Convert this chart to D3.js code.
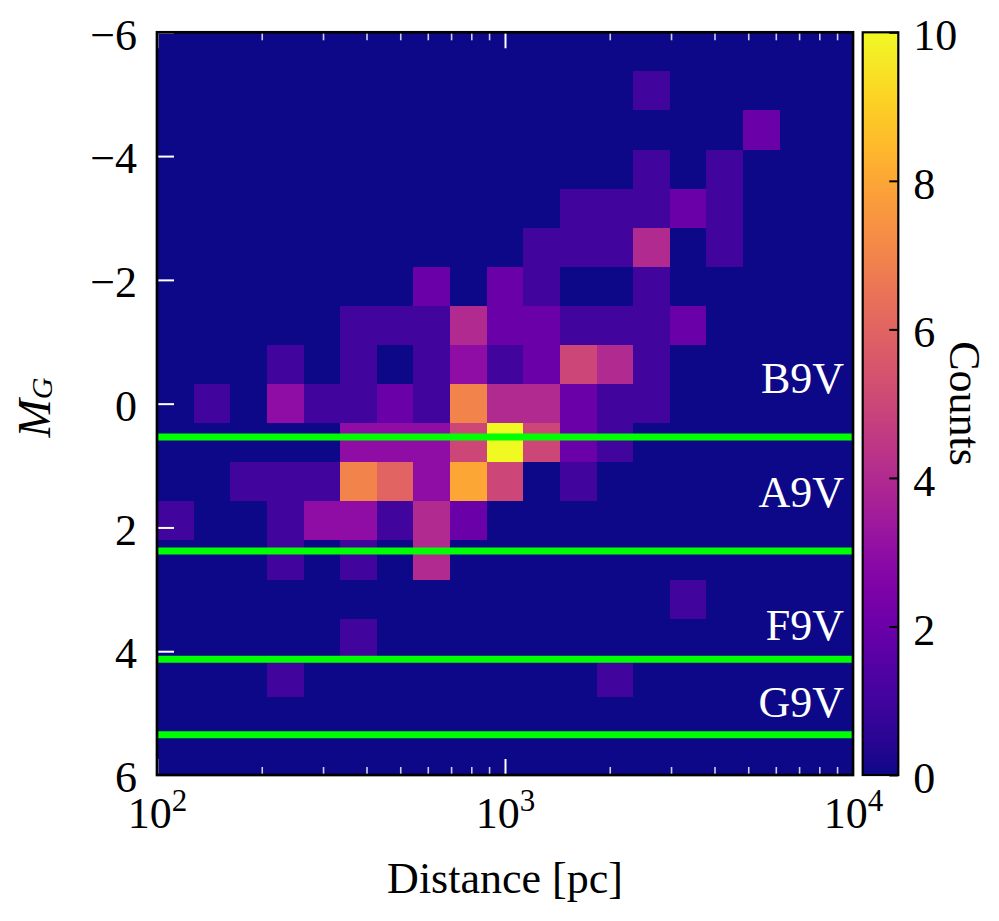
<!DOCTYPE html>
<html>
<head>
<meta charset="utf-8">
<script src="https://cdn.jsdelivr.net/npm/d3@7"></script>
<style>
  body { margin: 0; background: #fff; }
  text { font-family: "Liberation Serif", "DejaVu Serif", serif; }
</style>
</head>
<body>
<div id="chart"></div>
<script>
// Bin edges (19 log bins in distance, 19 linear bins in M_G)
const distEdges = [100, 127.43, 162.38, 206.91, 263.67, 335.98, 428.13, 545.56, 695.19, 885.87,
  1128.84, 1438.45, 1832.98, 2335.72, 2976.35, 3792.69, 4832.93, 6158.48, 7847.60, 10000];
const magEdges = [-6, -5.3684, -4.7368, -4.1053, -3.4737, -2.8421, -2.2105, -1.5789, -0.9474, -0.3158,
  0.3158, 0.9474, 1.5789, 2.2105, 2.8421, 3.4737, 4.1053, 4.7368, 5.3684, 6];

// Counts, one row per M_G bin (bright to faint), one column per distance bin
const counts = [
  [0,0,0,0,0,0,0,0,0,0,0,0,0,0,0,0,0,0,0],
  [0,0,0,0,0,0,0,0,0,0,0,0,0,1,0,0,0,0,0],
  [0,0,0,0,0,0,0,0,0,0,0,0,0,0,0,0,2,0,0],
  [0,0,0,0,0,0,0,0,0,0,0,0,0,1,0,1,0,0,0],
  [0,0,0,0,0,0,0,0,0,0,0,1,1,1,2,1,0,0,0],
  [0,0,0,0,0,0,0,0,0,0,1,1,1,4,0,1,0,0,0],
  [0,0,0,0,0,0,0,2,0,2,1,0,0,1,0,0,0,0,0],
  [0,0,0,0,0,1,1,1,4,2,2,1,1,1,2,0,0,0,0],
  [0,0,0,1,0,1,0,1,3,1,2,5,4,1,0,0,0,0,0],
  [0,1,0,3,1,1,2,1,7,4,4,2,1,1,0,0,0,0,0],
  [0,0,0,0,0,3,3,3,5,10,5,2,1,0,0,0,0,0,0],
  [0,0,1,1,1,7,6,3,8,5,0,1,0,0,0,0,0,0,0],
  [1,0,0,1,3,3,1,4,2,0,0,0,0,0,0,0,0,0,0],
  [0,0,0,1,0,1,0,4,0,0,0,0,0,0,0,0,0,0,0],
  [0,0,0,0,0,0,0,0,0,0,0,0,0,0,1,0,0,0,0],
  [0,0,0,0,0,1,0,0,0,0,0,0,0,0,0,0,0,0,0],
  [0,0,0,1,0,0,0,0,0,0,0,0,1,0,0,0,0,0,0],
  [0,0,0,0,0,0,0,0,0,0,0,0,0,0,0,0,0,0,0],
  [0,0,0,0,0,0,0,0,0,0,0,0,0,0,0,0,0,0,0]
];

// Spectral type reference lines
const typeNames = ["B9V", "A9V", "F9V", "G9V"];
const typeMag = [0.54, 2.38, 4.13, 5.35];
const typeLabelMag = [-0.17, 1.67, 3.82, 5.06];

// Ticks
const xMajorTicks = [100, 1000, 10000];
const xMinorTicks = [200, 300, 400, 500, 600, 700, 800, 900,
  2000, 3000, 4000, 5000, 6000, 7000, 8000, 9000];
const yTicks = [-6, -4, -2, 0, 2, 4, 6];
const cTicks = [0, 2, 4, 6, 8, 10];

const width = 999, height = 921;
const plot = { left: 157, right: 853, top: 32.3, bottom: 775 };
const cbar = { left: 862.7, right: 898.3 };
const fs = 44;

const svg = d3.select("#chart").append("svg")
  .attr("width", width)
  .attr("height", height);

const x = d3.scaleLog().domain([100, 10000]).range([plot.left, plot.right]);
const y = d3.scaleLinear().domain([-6, 6]).range([plot.top, plot.bottom]);
const color = d3.scaleSequential(d3.interpolatePlasma).domain([0, 10]);
const cy = d3.scaleLinear().domain([0, 10]).range([plot.bottom, plot.top]);

// Histogram cells (zero level underneath so no seams show)
svg.append("rect")
  .attr("x", plot.left)
  .attr("y", plot.top)
  .attr("width", plot.right - plot.left)
  .attr("height", plot.bottom - plot.top)
  .attr("fill", color(0));

const cells = [];
counts.forEach((row, i) => row.forEach((v, j) => { if (v > 0) cells.push({ i, j, v }); }));

svg.append("g")
  .attr("shape-rendering", "crispEdges")
  .selectAll("rect")
  .data(cells)
  .join("rect")
    .attr("x", d => x(distEdges[d.j]))
    .attr("y", d => y(magEdges[d.i]))
    .attr("width", d => x(distEdges[d.j + 1]) - x(distEdges[d.j]))
    .attr("height", d => y(magEdges[d.i + 1]) - y(magEdges[d.i]))
    .attr("fill", d => color(d.v));

// Reference lines + labels
svg.append("g")
  .selectAll("line")
  .data(typeMag)
  .join("line")
    .attr("x1", plot.left)
    .attr("x2", plot.right)
    .attr("y1", d => y(d))
    .attr("y2", d => y(d))
    .attr("stroke", "#00ff00")
    .attr("stroke-width", 7);

svg.append("g")
  .selectAll("text")
  .data(typeNames)
  .join("text")
    .attr("x", plot.right - 9)
    .attr("y", (d, i) => y(typeLabelMag[i]))
    .attr("text-anchor", "end")
    .attr("fill", "#fff")
    .attr("font-size", fs)
    .text(d => d);

// Axes (ticks pointing inward)
function styleTicks(g, col, w, op) {
  g.select(".domain").remove();
  g.selectAll(".tick line").attr("stroke", col).attr("stroke-width", w).attr("opacity", op);
}

// bottom major
svg.append("g")
  .attr("transform", `translate(0,${plot.bottom})`)
  .call(d3.axisBottom(x).tickValues(xMajorTicks).tickSize(-16))
  .attr("font-size", fs)
  .attr("font-family", null)
  .call(g => styleTicks(g, "#fff", 2, 1))
  .call(g => g.selectAll(".tick text")
    .attr("y", 53)
    .attr("dy", null)
    .attr("fill", "#000")
    .text("10")
    .append("tspan")
      .attr("dy", -17)
      .attr("font-size", 31)
      .text(d => Math.round(Math.log10(d))));

// bottom minor
svg.append("g")
  .attr("transform", `translate(0,${plot.bottom})`)
  .call(d3.axisBottom(x).tickValues(xMinorTicks).tickSize(-8).tickFormat(""))
  .call(g => styleTicks(g, "#fff", 1.6, 0.8));

// top major + minor
svg.append("g")
  .attr("transform", `translate(0,${plot.top})`)
  .call(d3.axisTop(x).tickValues(xMajorTicks).tickSize(-16).tickFormat(""))
  .call(g => styleTicks(g, "#fff", 2, 1));

svg.append("g")
  .attr("transform", `translate(0,${plot.top})`)
  .call(d3.axisTop(x).tickValues(xMinorTicks).tickSize(-8).tickFormat(""))
  .call(g => styleTicks(g, "#fff", 1.6, 0.8));

// left
svg.append("g")
  .attr("transform", `translate(${plot.left},0)`)
  .call(d3.axisLeft(y).tickValues(yTicks).tickSize(-17).tickPadding(20)
    .tickFormat(d => d < 0 ? "\u2212" + (-d) : String(d)))
  .attr("font-size", fs)
  .attr("font-family", null)
  .call(g => styleTicks(g, "#fff", 2, 1))
  .call(g => g.selectAll(".tick text").attr("dy", "0.38em").attr("fill", "#000"));

// Spine
svg.append("rect")
  .attr("x", plot.left)
  .attr("y", plot.top)
  .attr("width", plot.right - plot.left)
  .attr("height", plot.bottom - plot.top)
  .attr("fill", "none")
  .attr("stroke", "#000")
  .attr("stroke-width", 2.7);

// Colorbar
const grad = svg.append("defs").append("linearGradient")
  .attr("id", "plasma")
  .attr("x1", 0).attr("x2", 0).attr("y1", 1).attr("y2", 0);
grad.selectAll("stop")
  .data(d3.range(0, 1.0001, 0.02))
  .join("stop")
    .attr("offset", d => d)
    .attr("stop-color", d => d3.interpolatePlasma(d));

svg.append("rect")
  .attr("x", cbar.left)
  .attr("y", plot.top)
  .attr("width", cbar.right - cbar.left)
  .attr("height", plot.bottom - plot.top)
  .attr("fill", "url(#plasma)");

svg.append("g")
  .attr("transform", `translate(${cbar.right},0)`)
  .call(d3.axisRight(cy).tickValues(cTicks).tickSize(-9).tickPadding(15))
  .attr("font-size", fs)
  .attr("font-family", null)
  .call(g => styleTicks(g, "#000", 2, 1))
  .call(g => g.selectAll(".tick text").attr("dy", "0.4em").attr("fill", "#000"));

svg.append("rect")
  .attr("x", cbar.left)
  .attr("y", plot.top)
  .attr("width", cbar.right - cbar.left)
  .attr("height", plot.bottom - plot.top)
  .attr("fill", "none")
  .attr("stroke", "#000")
  .attr("stroke-width", 2.2);

// Axis labels
svg.append("text")
  .attr("x", (plot.left + plot.right) / 2)
  .attr("y", 893)
  .attr("text-anchor", "middle")
  .attr("font-size", fs)
  .text("Distance [pc]");

const yl = svg.append("text")
  .attr("transform", "translate(50,407.5) rotate(-90)")
  .attr("text-anchor", "middle")
  .attr("font-size", 46)
  .attr("font-style", "italic");
yl.append("tspan").text("M");
yl.append("tspan").attr("font-size", 30).attr("dy", 2).text("G");

svg.append("text")
  .attr("transform", "translate(950,403.5) rotate(90)")
  .attr("text-anchor", "middle")
  .attr("font-size", fs)
  .text("Counts");
</script>
</body>
</html>
